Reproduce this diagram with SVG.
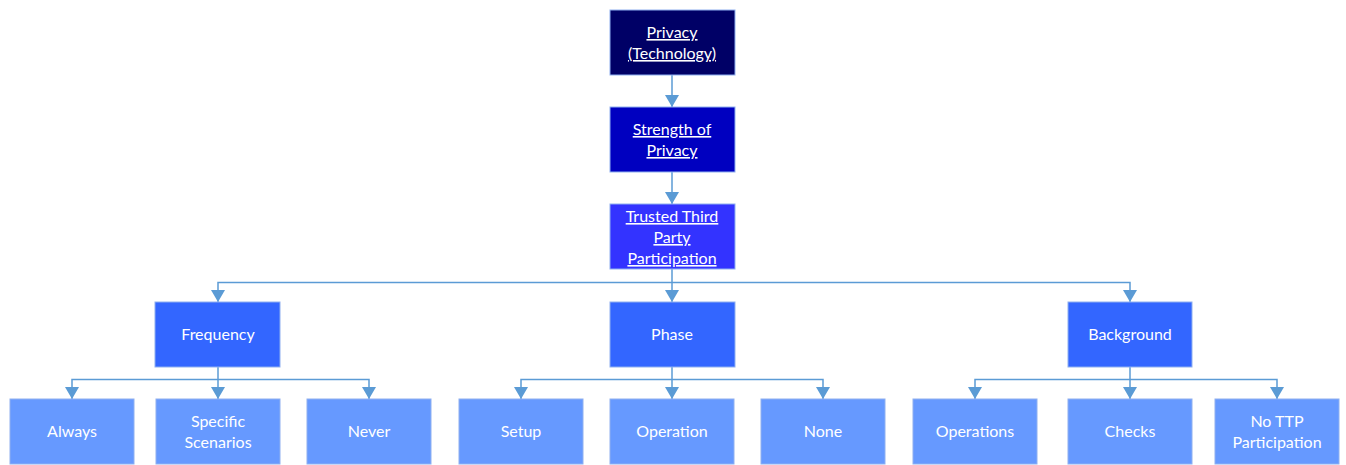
<svg xmlns="http://www.w3.org/2000/svg" width="1346" height="465" viewBox="0 0 1346 465">
  <defs>
    <style>
      .box { stroke: #8fb0f0; stroke-width: 1; }
      .l0 { fill: #000066; }
      .l1 { fill: #0000c0; }
      .l2 { fill: #3333ff; }
      .l3 { fill: #3366ff; }
      .l4 { fill: #6699ff; }
      text { font-family: Lato, "Open Sans", "Liberation Sans", sans-serif; font-size: 16px; fill: #ffffff; text-anchor: middle; }
      .u { text-decoration: underline; }
      .conn { fill: none; stroke: #5b9bd5; stroke-width: 1.5; }
    </style>
    <marker id="arr" viewBox="0 0 12 14" refX="12" refY="7" markerWidth="12" markerHeight="14" markerUnits="userSpaceOnUse" orient="auto">
      <path d="M0,0 L12,7 L0,14 z" fill="#5b9bd5"/>
    </marker>
  </defs>

  <g id="connectors">
    <path class="conn" marker-end="url(#arr)" d="M672,75 V107"/>
    <path class="conn" marker-end="url(#arr)" d="M672,172 V204"/>
    <path class="conn" marker-end="url(#arr)" d="M672,269 V302"/>
    <path class="conn" marker-end="url(#arr)" d="M672,282.5 H218 V302"/>
    <path class="conn" marker-end="url(#arr)" d="M672,282.5 H1130 V302"/>
    <path class="conn" marker-end="url(#arr)" d="M218,367 V399"/>
    <path class="conn" marker-end="url(#arr)" d="M218,379.5 H72 V399"/>
    <path class="conn" marker-end="url(#arr)" d="M218,379.5 H369 V399"/>
    <path class="conn" marker-end="url(#arr)" d="M672,367 V399"/>
    <path class="conn" marker-end="url(#arr)" d="M672,379.5 H521 V399"/>
    <path class="conn" marker-end="url(#arr)" d="M672,379.5 H823 V399"/>
    <path class="conn" marker-end="url(#arr)" d="M1130,367 V399"/>
    <path class="conn" marker-end="url(#arr)" d="M1130,379.5 H975 V399"/>
    <path class="conn" marker-end="url(#arr)" d="M1130,379.5 H1277 V399"/>
  </g>

  <g id="privacy-technology">
    <rect class="box l0" x="610" y="10" width="125" height="65"/>
    <text class="u" x="672" y="38">Privacy</text>
    <text class="u" x="672" y="59">(Technology)</text>
  </g>
  <g id="strength-of-privacy">
    <rect class="box l1" x="610" y="107" width="125" height="65"/>
    <text class="u" x="672" y="135">Strength of</text>
    <text class="u" x="672" y="156">Privacy</text>
  </g>
  <g id="ttp-participation">
    <rect class="box l2" x="610" y="204" width="125" height="65"/>
    <text class="u" x="672" y="222">Trusted Third</text>
    <text class="u" x="672" y="243">Party</text>
    <text class="u" x="672" y="264">Participation</text>
  </g>

  <g id="frequency">
    <rect class="box l3" x="155" y="302" width="125" height="65"/>
    <text x="218" y="340">Frequency</text>
  </g>
  <g id="phase">
    <rect class="box l3" x="610" y="302" width="125" height="65"/>
    <text x="672" y="340">Phase</text>
  </g>
  <g id="background">
    <rect class="box l3" x="1068" y="302" width="124" height="65"/>
    <text x="1130" y="340">Background</text>
  </g>

  <g id="always">
    <rect class="box l4" x="10" y="399" width="124" height="65"/>
    <text x="72" y="437">Always</text>
  </g>
  <g id="specific-scenarios">
    <rect class="box l4" x="156" y="399" width="124" height="65"/>
    <text x="218" y="427">Specific</text>
    <text x="218" y="448">Scenarios</text>
  </g>
  <g id="never">
    <rect class="box l4" x="307" y="399" width="124" height="65"/>
    <text x="369" y="437">Never</text>
  </g>
  <g id="setup">
    <rect class="box l4" x="459" y="399" width="124" height="65"/>
    <text x="521" y="437">Setup</text>
  </g>
  <g id="operation">
    <rect class="box l4" x="610" y="399" width="124" height="65"/>
    <text x="672" y="437">Operation</text>
  </g>
  <g id="none">
    <rect class="box l4" x="761" y="399" width="124" height="65"/>
    <text x="823" y="437">None</text>
  </g>
  <g id="operations">
    <rect class="box l4" x="913" y="399" width="124" height="65"/>
    <text x="975" y="437">Operations</text>
  </g>
  <g id="checks">
    <rect class="box l4" x="1068" y="399" width="124" height="65"/>
    <text x="1130" y="437">Checks</text>
  </g>
  <g id="no-ttp-participation">
    <rect class="box l4" x="1215" y="399" width="124" height="65"/>
    <text x="1277" y="427">No TTP</text>
    <text x="1277" y="448">Participation</text>
  </g>
</svg>
